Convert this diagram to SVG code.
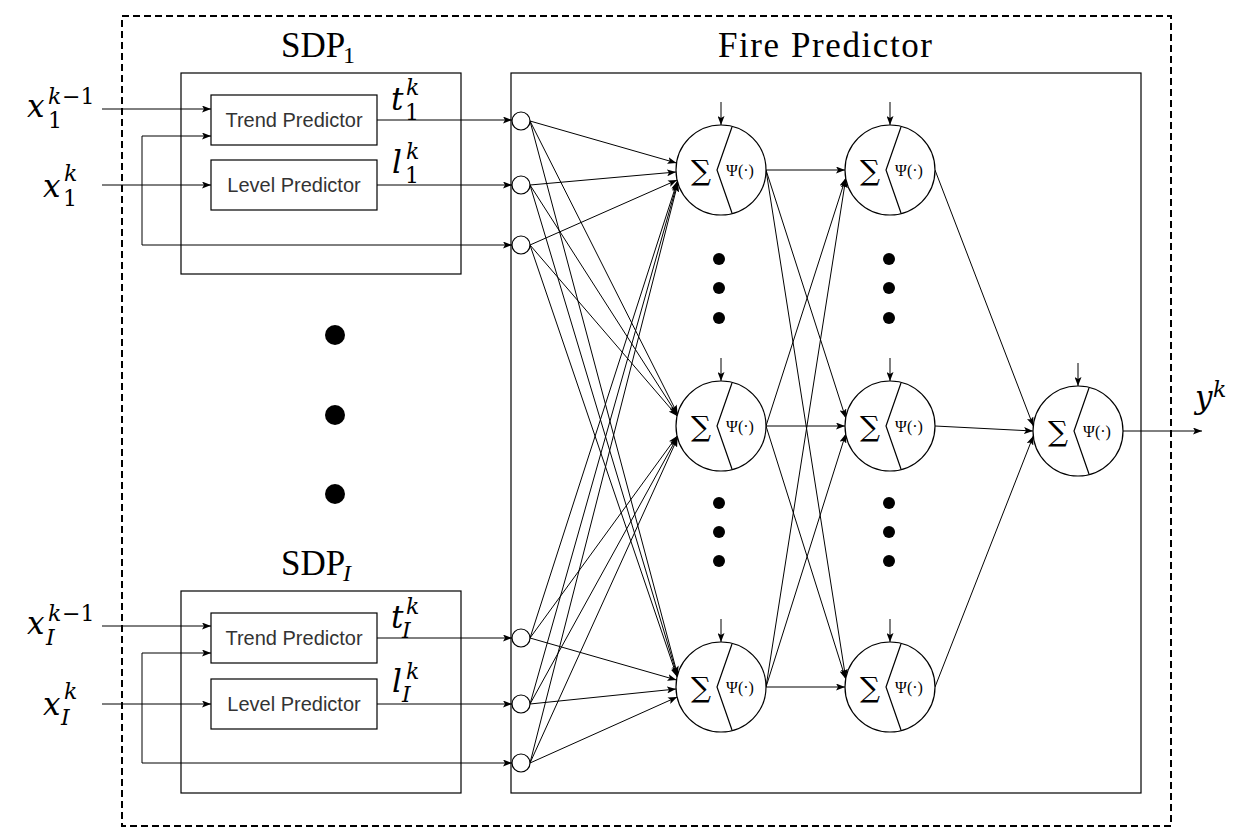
<svg xmlns="http://www.w3.org/2000/svg" width="1242" height="828" viewBox="0 0 1242 828">
<style>
.bx{fill:none;stroke:#000;stroke-width:1.2}
.wb{fill:#fff;stroke:#000;stroke-width:1.2}
.ln{fill:none;stroke:#000;stroke-width:1;marker-end:url(#ah)}
.lbl{font-family:"Liberation Sans",Arial,sans-serif;font-size:20px;fill:#333;text-anchor:middle}
.m{font-family:"DejaVu Serif","Liberation Serif",serif;font-size:31px;fill:#000}
.mi{font-style:italic}
.ms{font-size:22px;font-style:normal}
.msi{font-size:22px;font-style:italic}
.ttl{font-family:"Liberation Serif","Times New Roman",serif;font-size:35px;fill:#000}
.sig{font-family:"DejaVu Serif",serif;font-size:28px;fill:#000;text-anchor:middle}
.psi{font-family:"Liberation Serif","Times New Roman",serif;font-size:16px;fill:#000;text-anchor:middle}
.dot{fill:#000}
</style>
<defs>
<marker id="ah" viewBox="0 0 9 7" refX="9" refY="3.5" markerWidth="9" markerHeight="7" markerUnits="userSpaceOnUse" orient="auto">
<path d="M0,0 L9,3.5 L0,7 L2,3.5 z" fill="#000"/>
</marker>
<g id="neuron">
<circle cx="0" cy="0" r="45" class="wb"/>
<path d="M11,-43 L-4,0 L11,43" class="bx" stroke-width="1"/>
<text x="-20" y="10" class="sig">∑</text>
<text x="19" y="6" class="psi">Ψ(·)</text>
</g>
</defs>
<rect width="1242" height="828" fill="#fff"/>

<rect x="122" y="16" width="1049" height="810" fill="none" stroke="#000" stroke-width="2" stroke-dasharray="7 4"/>

<g id="sdp1">
<rect x="181" y="73" width="280" height="201" class="bx"/>
<text x="281" y="57" class="ttl">SDP<tspan x="343" y="63" font-size="24">1</tspan></text>
</g>
<g id="trend1"><rect x="211" y="95" width="166" height="50" class="wb"/><text x="294" y="127" class="lbl">Trend Predictor</text></g>
<g id="level1"><rect x="211" y="160" width="166" height="50" class="wb"/><text x="294" y="192" class="lbl">Level Predictor</text></g>

<g id="sdpI">
<rect x="181" y="591" width="280" height="202" class="bx"/>
<text x="281" y="575" class="ttl">SDP<tspan x="343" y="581" font-size="24" font-style="italic">I</tspan></text>
</g>
<g id="trendI"><rect x="211" y="613" width="166" height="50" class="wb"/><text x="294" y="645" class="lbl">Trend Predictor</text></g>
<g id="levelI"><rect x="211" y="679" width="166" height="50" class="wb"/><text x="294" y="711" class="lbl">Level Predictor</text></g>

<g id="fire">
<rect x="511" y="73" width="630" height="720" class="bx"/>
<text x="825" y="57" class="ttl" font-size="36" text-anchor="middle" textLength="214">Fire Predictor</text>
</g>

<g id="labels">
<text class="m"><tspan class="mi" x="27" y="117">x</tspan><tspan class="msi" x="48" y="104">k</tspan><tspan class="ms" x="62" y="104">−1</tspan><tspan class="ms" x="48" y="128">1</tspan></text>
<text class="m"><tspan class="mi" x="43" y="197">x</tspan><tspan class="msi" x="64" y="181">k</tspan><tspan class="ms" x="63" y="206">1</tspan></text>
<text class="m"><tspan class="mi" x="391" y="110">t</tspan><tspan class="msi" x="406" y="95">k</tspan><tspan class="ms" x="405" y="120">1</tspan></text>
<text class="m"><tspan class="mi" x="392" y="173">l</tspan><tspan class="msi" x="406" y="159">k</tspan><tspan class="ms" x="405" y="183">1</tspan></text>
<text class="m"><tspan class="mi" x="27" y="634">x</tspan><tspan class="msi" x="48" y="621">k</tspan><tspan class="ms" x="62" y="621">−1</tspan><tspan class="msi" x="46" y="645">I</tspan></text>
<text class="m"><tspan class="mi" x="43" y="715">x</tspan><tspan class="msi" x="64" y="699">k</tspan><tspan class="msi" x="61" y="725">I</tspan></text>
<text class="m"><tspan class="mi" x="391" y="628">t</tspan><tspan class="msi" x="406" y="614">k</tspan><tspan class="msi" x="402" y="638">I</tspan></text>
<text class="m"><tspan class="mi" x="392" y="692">l</tspan><tspan class="msi" x="406" y="679">k</tspan><tspan class="msi" x="402" y="702">I</tspan></text>
<text class="m"><tspan class="mi" x="1195" y="408">y</tspan><tspan class="msi" x="1213" y="397">k</tspan></text>
</g>

<g id="bigdots"><circle cx="335" cy="335" r="10" class="dot"/><circle cx="335" cy="415" r="10" class="dot"/><circle cx="335" cy="494" r="10" class="dot"/></g>
<g id="smalldots">
<circle cx="719" cy="259" r="6" class="dot"/><circle cx="719" cy="288" r="6" class="dot"/><circle cx="719" cy="318" r="6" class="dot"/>
<circle cx="719" cy="503" r="6" class="dot"/><circle cx="719" cy="532" r="6" class="dot"/><circle cx="719" cy="561" r="6" class="dot"/>
<circle cx="889" cy="259" r="6" class="dot"/><circle cx="889" cy="288" r="6" class="dot"/><circle cx="889" cy="318" r="6" class="dot"/>
<circle cx="889" cy="503" r="6" class="dot"/><circle cx="889" cy="532" r="6" class="dot"/><circle cx="889" cy="561" r="6" class="dot"/>
</g>

<g id="connectors">
<path class="ln" d="M102,109 L211,109"/>
<path class="ln" d="M102,185 L211,185"/>
<path class="ln" d="M142,245 L142,136 L211,136"/>
<path class="ln" d="M142,245 L512,245"/>
<path class="ln" d="M377,120 L512,120"/>
<path class="ln" d="M377,185 L512,185"/>
<path class="ln" d="M102,626 L211,626"/>
<path class="ln" d="M102,704 L211,704"/>
<path class="ln" d="M142,763 L142,653 L211,653"/>
<path class="ln" d="M142,763 L512,763"/>
<path class="ln" d="M377,638 L512,638"/>
<path class="ln" d="M377,704 L512,704"/>

<path class="ln" d="M530,121 L676.5,163"/>
<path class="ln" d="M530,185 L676,172"/>
<path class="ln" d="M530,245 L677.1,180"/>
<path class="ln" d="M530,638 L677.4,181"/>
<path class="ln" d="M530,704 L677.6,182"/>
<path class="ln" d="M530,763 L677.9,183"/>

<path class="ln" d="M530,121 L677.6,414"/>
<path class="ln" d="M530,185 L677.4,415"/>
<path class="ln" d="M530,245 L677.1,416"/>
<path class="ln" d="M530,638 L677.1,436"/>
<path class="ln" d="M530,704 L677.4,437"/>
<path class="ln" d="M530,763 L677.6,438"/>

<path class="ln" d="M530,121 L677.6,675"/>
<path class="ln" d="M530,185 L677.4,676"/>
<path class="ln" d="M530,245 L677.1,677"/>
<path class="ln" d="M530,638 L676.5,680"/>
<path class="ln" d="M530,704 L676,689"/>
<path class="ln" d="M530,763 L677.1,697"/>

<path class="ln" d="M766,170 L845,170"/>
<path class="ln" d="M766,170 L845.7,418"/>
<path class="ln" d="M766,170 L845.7,678"/>
<path class="ln" d="M766,426 L845.7,178"/>
<path class="ln" d="M766,426 L845,426"/>
<path class="ln" d="M766,426 L845.7,679"/>
<path class="ln" d="M766,687 L845.7,179"/>
<path class="ln" d="M766,687 L845.7,434"/>
<path class="ln" d="M766,687 L845,687"/>

<path class="ln" d="M935,170 L1033.3,426"/>
<path class="ln" d="M935,426 L1033,431"/>
<path class="ln" d="M935,687 L1033.3,436"/>
<path class="ln" d="M1123,431 L1202,431"/>

<path class="ln" d="M721,102 L721,125"/>
<path class="ln" d="M721,358 L721,381"/>
<path class="ln" d="M721,619 L721,642"/>
<path class="ln" d="M890,102 L890,125"/>
<path class="ln" d="M890,358 L890,381"/>
<path class="ln" d="M890,619 L890,642"/>
<path class="ln" d="M1078,363 L1078,386"/>
</g>

<g id="in1a"><circle cx="521" cy="121" r="9" class="wb"/></g>
<g id="in1b"><circle cx="521" cy="185" r="9" class="wb"/></g>
<g id="in1c"><circle cx="521" cy="245" r="9" class="wb"/></g>
<g id="inIa"><circle cx="521" cy="638" r="9" class="wb"/></g>
<g id="inIb"><circle cx="521" cy="704" r="9" class="wb"/></g>
<g id="inIc"><circle cx="521" cy="763" r="9" class="wb"/></g>

<g id="n11"><use href="#neuron" x="721" y="170"/></g>
<g id="n12"><use href="#neuron" x="721" y="426"/></g>
<g id="n13"><use href="#neuron" x="721" y="687"/></g>
<g id="n21"><use href="#neuron" x="890" y="170"/></g>
<g id="n22"><use href="#neuron" x="890" y="426"/></g>
<g id="n23"><use href="#neuron" x="890" y="687"/></g>
<g id="out"><use href="#neuron" x="1078" y="431"/></g>
</svg>
